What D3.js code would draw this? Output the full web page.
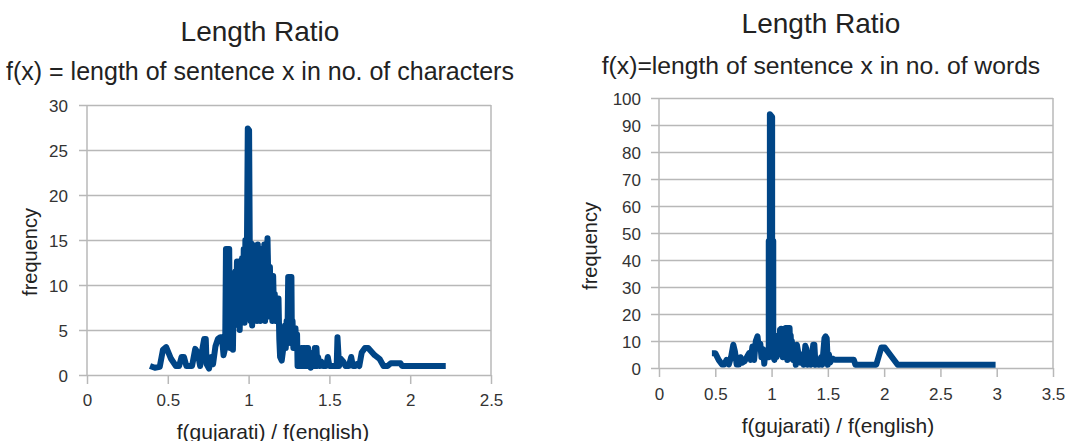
<!DOCTYPE html>
<html>
<head>
<meta charset="utf-8">
<script src="https://cdn.jsdelivr.net/npm/d3@7"></script>
<style>
  body { margin: 0; background: #fff; }
  svg { display: block; }
  text { font-family: "Liberation Sans", Arial, sans-serif; fill: #222; }
</style>
</head>
<body>
<svg id="chart" width="1067" height="441"></svg>
<script>
// character-length ratio (left chart)
var charRatio = [0.39, 0.42, 0.45, 0.47, 0.49, 0.52, 0.55, 0.57, 0.585, 0.60, 0.615, 0.65, 0.67, 0.685, 0.70,
  0.715, 0.725, 0.735, 0.74, 0.755, 0.77, 0.78, 0.795, 0.81, 0.825, 0.835, 0.845, 0.855, 0.86, 0.88,
  0.885, 0.89, 0.895, 0.90, 0.903, 0.908, 0.912, 0.918, 0.922, 0.928, 0.934, 0.94, 0.945, 0.95, 0.955,
  0.96, 0.965, 0.97, 0.975, 0.98, 0.985, 0.99, 0.995, 1.003, 1.007, 1.012, 1.017, 1.022, 1.027, 1.032,
  1.037, 1.042, 1.047, 1.052, 1.057, 1.062, 1.067, 1.072, 1.077, 1.082, 1.087, 1.092, 1.097, 1.102, 1.107,
  1.112, 1.117, 1.122, 1.127, 1.132, 1.137, 1.142, 1.147, 1.152, 1.157, 1.162, 1.167, 1.175, 1.185, 1.19,
  1.195, 1.205, 1.215, 1.225, 1.23, 1.235, 1.24, 1.245, 1.265, 1.268, 1.272, 1.277, 1.283, 1.29, 1.295,
  1.30, 1.303, 1.308, 1.313, 1.318, 1.323, 1.328, 1.333, 1.338, 1.343, 1.348, 1.353, 1.358, 1.363, 1.368,
  1.373, 1.378, 1.385, 1.395, 1.40, 1.41, 1.415, 1.42, 1.425, 1.43, 1.44, 1.45, 1.46, 1.48, 1.49,
  1.50, 1.52, 1.545, 1.55, 1.56, 1.57, 1.585, 1.60, 1.62, 1.635, 1.645, 1.66, 1.67, 1.685, 1.70,
  1.72, 1.74, 1.78, 1.81, 1.835, 1.86, 1.88, 1.94, 1.95, 2.22];
var charFreq = [1, 0.8, 0.9, 2.8, 3.1, 1.8, 1, 1, 2, 2, 1, 1, 2.9, 2.5, 1,
  3, 4, 4, 1.2, 0.7, 2, 1.2, 3.2, 4, 4.2, 4.2, 2.2, 3, 14, 14,
  3, 11, 8, 11, 2.8, 9, 5.5, 11.5, 6, 12.6, 7, 12.6, 5, 11, 6,
  13, 7, 14, 5.8, 15, 8, 15, 27.4, 27.2, 15, 6, 14.6, 5.5, 13, 6.5,
  14.4, 7, 12, 6, 14.5, 6.5, 13.5, 6, 14, 6.5, 12.5, 7, 14.5, 6, 12,
  7, 15.2, 10.5, 6.5, 12, 7, 10, 6, 11, 7, 9, 6, 8.5, 8.5, 4,
  2, 1.6, 3, 5.5, 3, 6, 3.5, 10.9, 10.9, 3.5, 6, 3, 5.2, 5.2, 3,
  4.5, 1, 3, 1, 3, 1, 3, 1, 3, 1, 3, 1, 3, 1, 3,
  1, 2.5, 0.8, 2, 1, 3, 1, 3, 1, 2, 1, 1.5, 1, 1, 2,
  1, 1, 1, 4.2, 1, 1.8, 1.5, 1, 1, 2, 1, 1, 1.2, 1, 2.5,
  3, 3, 2.2, 1.8, 1, 1, 1.3, 1.3, 1, 1];

// word-length ratio (right chart)
var wordRatio = [0.47, 0.50, 0.53, 0.56, 0.58, 0.60, 0.62, 0.64, 0.66, 0.675, 0.69, 0.71, 0.725, 0.74, 0.76,
  0.78, 0.80, 0.815, 0.83, 0.845, 0.86, 0.875, 0.885, 0.90, 0.91, 0.925, 0.935, 0.945, 0.96, 0.975,
  0.975, 0.985, 0.985, 1.005, 1.005, 1.015, 1.015, 1.025, 1.035, 1.045, 1.05, 1.055, 1.06, 1.07, 1.075,
  1.08, 1.085, 1.09, 1.095, 1.10, 1.105, 1.11, 1.115, 1.12, 1.125, 1.13, 1.135, 1.14, 1.145, 1.15,
  1.16, 1.165, 1.17, 1.175, 1.18, 1.19, 1.205, 1.215, 1.225, 1.24, 1.255, 1.27, 1.285, 1.30, 1.31,
  1.32, 1.34, 1.35, 1.37, 1.38, 1.39, 1.41, 1.42, 1.44, 1.45, 1.47, 1.48, 1.49, 1.50, 1.51,
  1.52, 1.54, 1.56, 1.73, 1.745, 1.93, 1.975, 2.005, 2.12, 2.99];
var wordFreq = [5.5, 5.5, 3, 1.3, 1.3, 3, 1.3, 4, 8.6, 6, 1.3, 1.3, 4, 2, 2.5,
  4, 5.5, 3, 8, 3, 10, 11.7, 8, 9, 4, 7, 1.6, 6, 4, 4,
  47, 47, 94, 93, 47, 47, 4.3, 3, 8, 4, 9, 5, 12, 6, 14.2,
  8, 14.5, 5, 14, 4, 13, 7, 14.5, 9, 14.8, 6, 14.8, 3, 13, 7,
  14.8, 8, 12, 6, 10, 3, 8, 1.2, 8.6, 5, 2, 5, 1.2, 8.2, 7,
  1.2, 4, 1.2, 8.6, 8.6, 1.2, 3, 1.2, 4, 1.2, 11, 11.7, 11, 1.2, 5,
  2, 3.5, 3.1, 3.1, 1.2, 1.2, 7.6, 7.6, 1.2, 1.2];

var charXTicks = [0, 0.5, 1, 1.5, 2, 2.5],
    charYTicks = [0, 5, 10, 15, 20, 25, 30],
    wordXTicks = [0, 0.5, 1, 1.5, 2, 2.5, 3, 3.5],
    wordYTicks = [0, 10, 20, 30, 40, 50, 60, 70, 80, 90, 100];

var line_color = "#004586",
    grid_color = "#b8b8b8";

var svg = d3.select("#chart");

function draw_chart(cfg) {
  var x = d3.scaleLinear().domain(d3.extent(cfg.xTicks)).range([cfg.left, cfg.right]);
  var y = d3.scaleLinear().domain(d3.extent(cfg.yTicks)).range([cfg.bottom, cfg.top]);
  var width = cfg.right - cfg.left;
  var g = svg.append("g");

  // horizontal gridlines + y ticks sticking out to the left
  var y_axis = g.append("g")
      .attr("transform", "translate(" + cfg.left + ",0)")
      .call(d3.axisLeft(y).tickValues(cfg.yTicks).tickSizeInner(-width).tickSizeOuter(0)
          .tickFormat(function (d) { return String(d); }));
  y_axis.select(".domain").remove();
  y_axis.selectAll(".tick line").attr("x1", -8).attr("stroke", grid_color).attr("stroke-width", 1.5);
  y_axis.selectAll(".tick text").attr("x", cfg.yLabelX - cfg.left).attr("dy", "0.36em")
      .style("font-size", "17px").style("fill", "#333");

  // x ticks
  var x_axis = g.append("g")
      .attr("transform", "translate(0," + cfg.bottom + ")")
      .call(d3.axisBottom(x).tickValues(cfg.xTicks).tickSizeInner(9).tickSizeOuter(0)
          .tickFormat(function (d) { return String(d); }));
  x_axis.select(".domain").remove();
  x_axis.selectAll(".tick line").attr("stroke", grid_color).attr("stroke-width", 1.5);
  x_axis.selectAll(".tick text").attr("y", cfg.xLabelY - cfg.bottom).attr("dy", 0)
      .style("font-size", "17px").style("fill", "#333");

  // left and right frame lines
  g.selectAll("line.frame").data([cfg.left, cfg.right]).enter().append("line")
      .attr("class", "frame")
      .attr("x1", function (d) { return d; }).attr("x2", function (d) { return d; })
      .attr("y1", cfg.top).attr("y2", cfg.bottom)
      .attr("stroke", grid_color).attr("stroke-width", 1.5);

  var pts = d3.zip(cfg.xs, cfg.ys);
  g.append("path")
      .datum(pts)
      .attr("fill", "none")
      .attr("stroke", line_color)
      .attr("stroke-width", 6)
      .attr("stroke-linejoin", "round")
      .attr("d", d3.line()
          .x(function (d) { return x(d[0]); })
          .y(function (d) { return y(d[1]); }));

  g.append("text")
      .attr("x", cfg.titleX).attr("y", cfg.titleY)
      .attr("text-anchor", "middle")
      .style("font-size", "28px")
      .text("Length Ratio");
  g.append("text")
      .attr("x", cfg.subX).attr("y", cfg.subY)
      .attr("text-anchor", "middle")
      .style("font-size", cfg.subSize)
      .text(cfg.subtitle);
  g.append("text")
      .attr("x", cfg.xTitleX).attr("y", cfg.xTitleY)
      .attr("text-anchor", "middle")
      .style("font-size", "21px")
      .text("f(gujarati) / f(english)");
  g.append("text")
      .attr("transform", "translate(" + cfg.yTitleX + "," + cfg.yTitleY + ") rotate(-90)")
      .attr("text-anchor", "middle")
      .style("font-size", "20px")
      .text("frequency");
}

draw_chart({
  xs: charRatio, ys: charFreq, xTicks: charXTicks, yTicks: charYTicks,
  left: 87, right: 491, top: 105, bottom: 375,
  yLabelX: 68, xLabelY: 406,
  titleX: 260, titleY: 41, subX: 260, subY: 80, subSize: "25px",
  subtitle: "f(x) = length of sentence x in no. of characters",
  xTitleX: 273, xTitleY: 439, yTitleX: 37, yTitleY: 252
});

draw_chart({
  xs: wordRatio, ys: wordFreq, xTicks: wordXTicks, yTicks: wordYTicks,
  left: 659, right: 1053, top: 98, bottom: 368,
  yLabelX: 641, xLabelY: 400,
  titleX: 821, titleY: 33, subX: 821, subY: 74, subSize: "24.7px",
  subtitle: "f(x)=length of sentence x in no. of words",
  xTitleX: 838, xTitleY: 433, yTitleX: 597, yTitleY: 246
});
</script>
</body>
</html>
